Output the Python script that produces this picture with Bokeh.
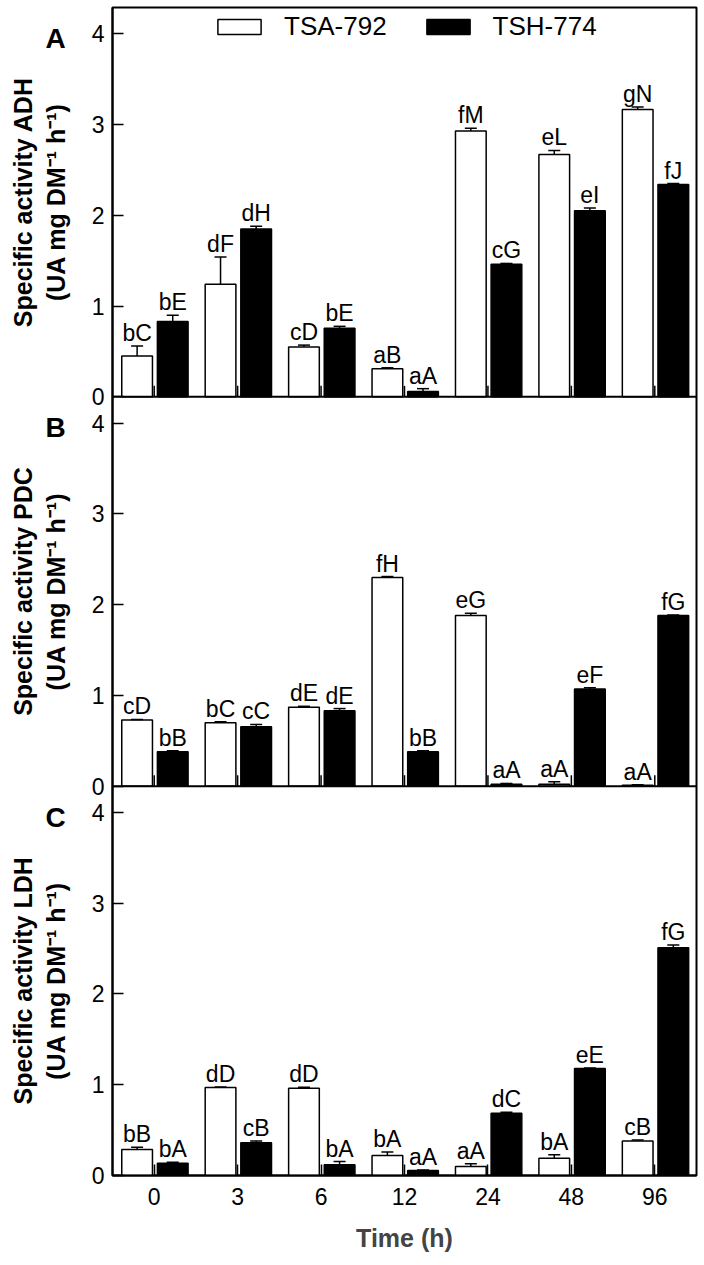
import math
from bokeh.plotting import figure
from bokeh.models import (ColumnDataSource, Range1d, FixedTicker, Legend, LegendItem, Span)
from bokeh.transform import dodge
from bokeh.layouts import row
from bokeh.core.properties import value
from bokeh.embed import file_html
from bokeh.resources import INLINE

times = ["0", "3", "6", "12", "24", "48", "96"]
series_names = ["TSA-792", "TSH-774"]

adh_tsa = [0.45, 1.24, 0.55, 0.31, 2.93, 2.67, 3.165]
adh_tsa_err = [0.11, 0.30, 0.02, 0.01, 0.03, 0.045, 0.03]
adh_tsh = [0.83, 1.85, 0.757, 0.06, 1.46, 2.05, 2.34]
adh_tsh_err = [0.07, 0.03, 0.02, 0.03, 0.01, 0.03, 0.01]
adh_tsa_lbl = ["bC", "dF", "cD", "aB", "fM", "eL", "gN"]
adh_tsh_lbl = ["bE", "dH", "bE", "aA", "cG", "eI", "fJ"]

pdc_tsa = [0.73, 0.70, 0.87, 2.30, 1.88, 0.02, 0.01]
pdc_tsa_err = [0.005, 0.01, 0.01, 0.01, 0.025, 0.03, 0.005]
pdc_tsh = [0.38, 0.655, 0.83, 0.38, 0.02, 1.07, 1.88]
pdc_tsh_err = [0.01, 0.025, 0.025, 0.01, 0.01, 0.015, 0.005]
pdc_tsa_lbl = ["cD", "bC", "dE", "fH", "eG", "aA", "aA"]
pdc_tsh_lbl = ["bB", "cC", "dE", "bB", "aA", "eF", "fG"]

ldh_tsa = [0.287, 0.97, 0.962, 0.22, 0.10, 0.19, 0.38]
ldh_tsa_err = [0.025, 0.005, 0.01, 0.04, 0.03, 0.04, 0.01]
ldh_tsh = [0.136, 0.36, 0.118, 0.055, 0.687, 1.18, 2.51]
ldh_tsh_err = [0.01, 0.02, 0.035, 0.005, 0.01, 0.005, 0.03]
ldh_tsa_lbl = ["bB", "dD", "dD", "bA", "aA", "bA", "cB"]
ldh_tsh_lbl = ["bA", "cB", "bA", "aA", "dC", "eE", "fG"]

y_ticks = [0, 1, 2, 3, 4]
panel_letters = ["A", "B", "C"]
enzymes = ["ADH", "PDC", "LDH"]
unit_line = "(UA mg DM\u207b\u00b9 h\u207b\u00b9)"

FONT = "Liberation Sans"
H = 4.29  # height of each stacked panel in data units (0 .. 4.29)
FRAME_H = 1168
TOP = 7
BOTTOM = 82
LEFT_W = 86

panels = [
    (adh_tsa, adh_tsa_err, adh_tsh, adh_tsh_err, adh_tsa_lbl, adh_tsh_lbl),
    (pdc_tsa, pdc_tsa_err, pdc_tsh, pdc_tsh_err, pdc_tsa_lbl, pdc_tsh_lbl),
    (ldh_tsa, ldh_tsa_err, ldh_tsh, ldh_tsh_err, ldh_tsa_lbl, ldh_tsh_lbl),
]
n_pan = len(panels)
offsets = [(n_pan - 1 - k) * H for k in range(n_pan)]  # A on top

yr = Range1d(0, n_pan * H)

p = figure(x_range=times, y_range=yr,
           frame_width=584, frame_height=FRAME_H,
           min_border_left=26, min_border_right=3,
           min_border_top=TOP, min_border_bottom=BOTTOM,
           output_backend="svg", toolbar_location=None)
p.background_fill_color = "white"
p.border_fill_color = "white"
p.outline_line_color = "black"
p.outline_line_width = 2
p.xgrid.visible = False
p.ygrid.visible = False

legend_renderers = []
for k, (tsa, tsa_err, tsh, tsh_err, tsa_lbl, tsh_lbl) in enumerate(panels):
    off_y = offsets[k]
    for vals, errs, lbls, off, fill in [(tsa, tsa_err, tsa_lbl, -0.205, "white"),
                                        (tsh, tsh_err, tsh_lbl, 0.222, "black")]:
        src = ColumnDataSource(dict(
            t=times,
            base=[off_y] * len(times),
            v=[off_y + a for a in vals],
            top=[off_y + a + b for a, b in zip(vals, errs)],
            lbl=lbls))
        xs = dodge("t", off, range=p.x_range)
        r = p.vbar(x=xs, top="v", bottom="base", width=0.368, source=src,
                   fill_color=fill, line_color="black", line_width=1.5)
        if k == 0:
            legend_renderers.append(r)
        p.segment(x0=xs, y0="v", x1=xs, y1="top", source=src,
                  line_color="black", line_width=1.5)
        p.scatter(x=xs, y="top", marker="dash", size=12, source=src,
                  line_color="black", line_width=1.5)
        p.text(x=xs, y="top", text="lbl", source=src, text_align="center",
               text_baseline="bottom",
               text_font=value(FONT), text_font_size="23px", text_color="black")

    # inner x ticks at the bottom of the upper panels, and the panel separator
    if off_y > 0:
        tsrc = ColumnDataSource(dict(t=times, y0=[off_y] * len(times),
                                     y1=[off_y + 0.121] * len(times)))
        p.segment(x0="t", y0="y0", x1="t", y1="y1", source=tsrc,
                  line_color="black", line_width=1.5)
        p.add_layout(Span(location=off_y, dimension="width",
                          line_color="black", line_width=2))

tick_vals = [off_y + t for off_y in offsets for t in y_ticks]
yax = p.yaxis[0]
yax.ticker = FixedTicker(ticks=tick_vals)
yax.major_label_overrides = {off_y + t: str(t) for off_y in offsets for t in y_ticks}
yax.minor_tick_line_color = None
yax.major_tick_in = 11
yax.major_tick_out = 0
yax.major_tick_line_width = 1.5
yax.axis_line_width = 2
yax.major_label_standoff = 8
yax.major_label_text_font = FONT
yax.major_label_text_font_size = "23px"
yax.major_label_text_color = "black"

xax = p.xaxis[0]
xax.major_tick_in = 11
xax.major_tick_out = 0
xax.major_tick_line_width = 1.5
xax.axis_line_width = 2
xax.minor_tick_line_color = None
xax.major_label_standoff = 12
xax.major_label_text_font = FONT
xax.major_label_text_font_size = "23px"
xax.major_label_text_color = "black"
xax.axis_label = "Time (h)"
xax.axis_label_text_font = FONT
xax.axis_label_text_font_style = "bold"
xax.axis_label_text_font_size = "25px"
xax.axis_label_standoff = 16

lg = Legend(items=[LegendItem(label=series_names[0], renderers=[legend_renderers[0]]),
                   LegendItem(label=series_names[1], renderers=[legend_renderers[1]])],
            orientation="horizontal", location=(100, FRAME_H - 35),
            glyph_width=54, glyph_height=19, label_standoff=18, spacing=34,
            padding=0, margin=0, background_fill_alpha=0, border_line_alpha=0,
            label_text_font=FONT, label_text_font_size="26px",
            label_text_color="black")
p.add_layout(lg)

# left strip holding the panel letters and the y-axis titles (shares the y range)
q = figure(x_range=Range1d(0, LEFT_W), y_range=yr,
           frame_width=LEFT_W, frame_height=FRAME_H,
           min_border_left=0, min_border_right=0,
           min_border_top=TOP, min_border_bottom=BOTTOM,
           x_axis_location=None, y_axis_location=None,
           output_backend="svg", toolbar_location=None)
q.outline_line_color = None
q.xgrid.visible = False
q.ygrid.visible = False
q.background_fill_color = "white"
q.border_fill_color = "white"

letter_src = ColumnDataSource(dict(x=[55] * n_pan, y=[o + 3.95 for o in offsets],
                                   text=panel_letters))
q.text(x="x", y="y", text="text", source=letter_src, text_align="center",
       text_baseline="middle", text_font=value(FONT), text_font_style="bold",
       text_font_size="28px", text_color="black")
title_src = ColumnDataSource(dict(
    x=[22.5] * n_pan + [55] * n_pan,
    y=[o + H / 2 for o in offsets] * 2,
    text=["Specific activity " + e for e in enzymes] + [unit_line] * n_pan))
q.text(x="x", y="y", text="text", source=title_src, angle=math.pi / 2,
       text_align="center", text_baseline="middle", text_font=value(FONT),
       text_font_style="bold", text_font_size="25px", text_color="black")

layout = row(q, p, spacing=0)
open("out.html", "w").write(file_html(layout, INLINE))
